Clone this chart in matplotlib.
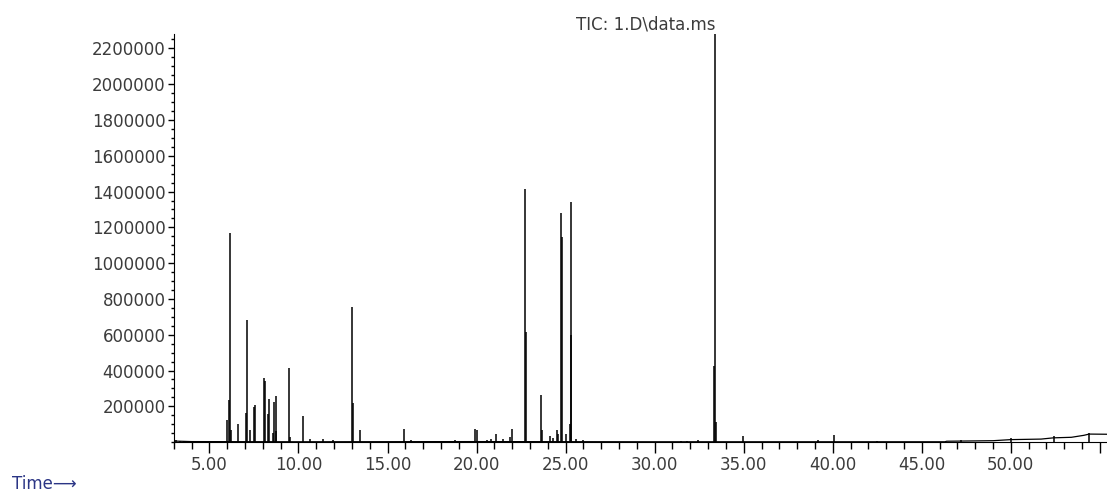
import numpy as np
import matplotlib
matplotlib.use('Agg')
import matplotlib.pyplot as plt
from matplotlib.ticker import MultipleLocator, FuncFormatter

# peaks: retention time (min), abundance
peak_time = [3.15, 3.35, 3.6, 4.48, 5.96, 6.10, 6.14, 6.21, 6.59, 7.08, 7.13, 7.27,
             7.49, 7.58, 8.05, 8.14, 8.29, 8.37, 8.55, 8.65, 8.72, 8.76, 9.48, 9.53,
             10.26, 10.64, 11.39, 11.95, 13.01, 13.09, 13.43, 15.92, 16.3, 18.8,
             19.94, 20.0, 20.6, 20.8, 21.1, 21.5, 21.9, 22.0, 22.73, 22.79, 23.6,
             23.65, 24.1, 24.3, 24.49, 24.6, 24.72, 24.78, 25.0, 25.25, 25.28, 25.32,
             25.6, 26.0, 31.5, 31.8, 32.45, 33.33, 33.37, 33.42, 34.98, 39.2, 40.07,
             42.5, 47.2, 50.0, 52.4, 54.4]
peak_height = [12000, 9000, 7000, 8000, 123000, 235000, 1168000, 67000, 100000, 164000,
               685000, 67000, 197000, 205000, 356000, 341000, 156000, 242000, 50000,
               225000, 257000, 60000, 412000, 30000, 145000, 18000, 15000, 10000,
               756000, 216000, 67000, 76000, 12000, 10000, 76000, 65000, 12000, 15000,
               45000, 15000, 30000, 76000, 1412000, 615000, 263000, 65000, 35000, 25000,
               70000, 45000, 1278000, 1144000, 45000, 100000, 1341000, 598000, 15000,
               10000, 8000, 8000, 12000, 425000, 2280000, 110000, 37000, 12000, 39000,
               8000, 12000, 25000, 35000, 50000]

# slowly drifting baseline
base_time = [3.0, 4.0, 10.0, 20.0, 30.0, 40.0, 46.3, 46.4, 49.0, 50.0, 51.7, 52.4,
             53.4, 54.1, 54.4, 55.4]
base_level = [6000, 3000, 2000, 3000, 2000, 2000, 2000, 5000, 8000, 14000, 17000,
              24000, 27000, 38000, 45000, 44000]

ytick_vals = [200000, 400000, 600000, 800000, 1000000, 1200000, 1400000,
              1600000, 1800000, 2000000, 2200000]

fig = plt.figure(figsize=(11.07, 4.94), dpi=100)
ax = fig.add_axes([0.157, 0.105, 0.843, 0.826])

ax.plot(base_time, base_level, color='black', lw=0.9)
ax.vlines(peak_time, 0, peak_height, color='black', lw=1.1)

ax.set_xlim(3.0, 55.4)
ax.set_ylim(0, 2280000)
ax.spines['top'].set_visible(False)
ax.spines['right'].set_visible(False)

ax.xaxis.set_major_locator(MultipleLocator(5))
ax.xaxis.set_minor_locator(MultipleLocator(1))
# last tick (55) sits at the very edge, its label is not shown
ax.xaxis.set_major_formatter(FuncFormatter(lambda v, p: '' if v > 54 else '%.2f' % v))
ax.set_yticks(ytick_vals)
ax.set_yticklabels([str(v) for v in ytick_vals])
ax.yaxis.set_minor_locator(MultipleLocator(50000))

ax.tick_params(axis='x', which='major', length=8, width=1, pad=2,
               labelsize=12, labelcolor='#3c3c3c')
ax.tick_params(axis='x', which='minor', length=5, width=1)
ax.tick_params(axis='y', which='major', length=4, width=1, pad=2,
               labelsize=12, labelcolor='#3c3c3c')
ax.tick_params(axis='y', which='minor', length=2, width=1)

fig.text(0.583, 0.95, 'TIC: 1.D\\data.ms', ha='center', va='center',
         fontsize=12, color='#3c3c3c')
fig.text(0.011, 0.02, 'Time\u27f6', ha='left', va='center',
         fontsize=12, color='#2b3585')

fig.savefig('out.png', dpi=100)
